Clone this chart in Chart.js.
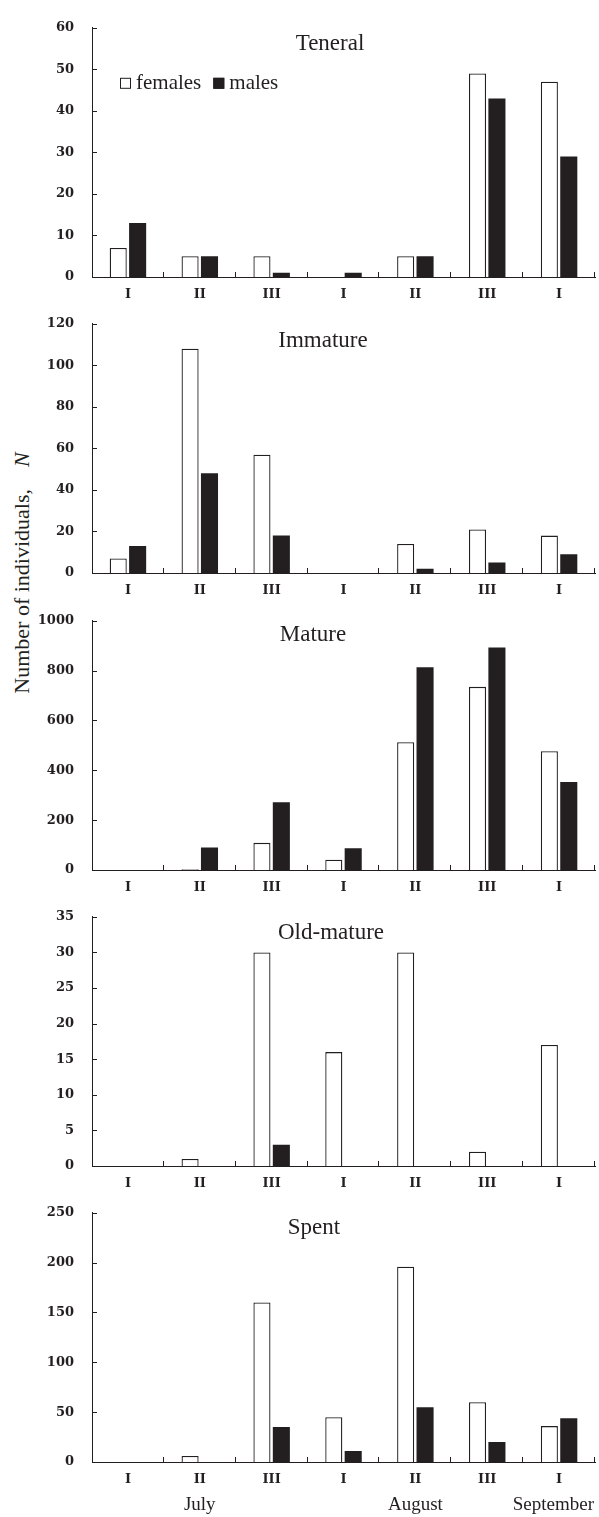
<!DOCTYPE html>
<html lang="en">
<head>
<meta charset="UTF-8">
<title>Number of individuals by age group</title>
<script src="https://cdn.jsdelivr.net/npm/chart.js"></script>
<style>
    html, body { margin: 0; padding: 0; background: #fff; }
    .figure { position: relative; width: 599px; height: 1517px; overflow: hidden; }
    .figure canvas { position: absolute; left: 0; }
    .y-title {
        position: absolute; left: 22px; top: 573px;
        transform: translate(-50%, -50%) rotate(-90deg);
        white-space: nowrap; color: #231f20;
        font: 22px "Liberation Serif", serif;
    }
</style>
</head>
<body>
<div class="figure" id="figure">
    <div class="y-title">Number of individuals,&emsp;<i>N</i></div>
</div>
<script>
// ten-day periods and months under the last panel
const periods = ['I', 'II', 'III', 'I', 'II', 'III', 'I'];
const months = ['July', 'August', 'September'];
const monthIndex = [1, 4, 6];

const tenFemales = [7, 5, 5, 0, 5, 49, 47];
const tenMales = [13, 5, 1, 1, 5, 43, 29];
const immFemales = [7, 108, 57, 0, 14, 21, 18];
const immMales = [13, 48, 18, 0, 2, 5, 9];
const matFemales = [0, 3, 109, 41, 513, 735, 477];
const matMales = [0, 90, 272, 87, 814, 893, 353];
const oldFemales = [0, 1, 30, 16, 30, 2, 17];
const oldMales = [0, 0, 3, 0, 0, 0, 0];
const spFemales = [0, 6, 160, 45, 196, 60, 36];
const spMales = [0, 0, 35, 11, 55, 20, 44];

const INK = '#231f20';
const PLOT_H = 260;

const panels = [
    { title: 'Teneral', females: tenFemales, males: tenMales, max: 60, step: 10, top: 17, titleX: 330, titleDy: 16, legend: true },
    { title: 'Immature', females: immFemales, males: immMales, max: 120, step: 20, top: 313, titleX: 323, titleDy: 17 },
    { title: 'Mature', females: matFemales, males: matMales, max: 1000, step: 200, top: 610, titleX: 313, titleDy: 14 },
    { title: 'Old-mature', females: oldFemales, males: oldMales, max: 35, step: 5, top: 906, titleX: 331, titleDy: 16 },
    { title: 'Spent', females: spFemales, males: spMales, max: 250, step: 50, top: 1202, titleX: 314, titleDy: 15, months: true }
];

// inward tick marks, panel title, legend and month names
const panelDecor = {
    id: 'panelDecor',
    afterDraw(chart, args, opts) {
        const ctx = chart.ctx;
        const area = chart.chartArea;
        const xs = chart.scales.x;
        const ys = chart.scales.y;
        ctx.save();
        ctx.strokeStyle = INK;
        ctx.lineWidth = 1;
        ctx.beginPath();
        ys.ticks.forEach(t => {
            const y = Math.round(ys.getPixelForValue(t.value)) + 0.5;
            ctx.moveTo(area.left, y);
            ctx.lineTo(area.left + 5, y);
        });
        const n = chart.data.labels.length;
        for (let i = 1; i <= n; i++) {
            let x = i === n ? area.right : (xs.getPixelForValue(i - 1) + xs.getPixelForValue(i)) / 2;
            x = Math.round(x) - 0.5;
            ctx.moveTo(x, area.bottom);
            ctx.lineTo(x, area.bottom - 5);
        }
        ctx.stroke();

        ctx.fillStyle = INK;
        ctx.textAlign = 'center';
        ctx.textBaseline = 'middle';
        ctx.font = '23px "Liberation Serif"';
        ctx.fillText(opts.title, opts.titleX, area.top + opts.titleDy);

        if (opts.legend) {
            ctx.font = '21px "Liberation Serif"';
            ctx.textAlign = 'left';
            let x = area.left + 28;
            const y = area.top + 56;
            chart.data.datasets.forEach(ds => {
                ctx.fillStyle = ds.backgroundColor;
                ctx.fillRect(x, y - 6, 11, 11);
                ctx.strokeRect(x + 0.5, y - 5.5, 10, 10);
                ctx.fillStyle = INK;
                ctx.fillText(ds.label, x + 16, y);
                x += 16 + ctx.measureText(ds.label).width + 12;
            });
        }

        if (opts.months) {
            ctx.font = '19px "Liberation Serif"';
            ctx.textAlign = 'center';
            months.forEach((m, k) => {
                const w = ctx.measureText(m).width;
                let x = xs.getPixelForValue(monthIndex[k]);
                x = Math.min(x, chart.width - w / 2 - 5);
                ctx.fillText(m, x, area.bottom + 43);
            });
        }
        ctx.restore();
    }
};

const figure = document.getElementById('figure');
const tickFont = { family: 'DejaVu Serif', size: 13, weight: 'bold' };

panels.forEach(p => {
    const bottomH = p.months ? 55 : 28;
    const canvas = document.createElement('canvas');
    canvas.width = 599;
    canvas.height = 15 + PLOT_H + bottomH;
    canvas.style.top = (p.top - 15) + 'px';
    figure.appendChild(canvas);

    new Chart(canvas.getContext('2d'), {
        type: 'bar',
        data: {
            labels: periods,
            datasets: [{
                label: 'females',
                data: p.females,
                backgroundColor: '#ffffff',
                borderColor: INK,
                borderWidth: 1.3
            }, {
                label: 'males',
                data: p.males,
                backgroundColor: INK,
                borderWidth: 0
            }]
        },
        options: {
            responsive: false,
            animation: false,
            devicePixelRatio: 1,
            layout: { padding: { top: 15, right: 4, left: 0, bottom: 0 } },
            datasets: { bar: { categoryPercentage: 0.54, barPercentage: 0.88 } },
            plugins: {
                legend: { display: false },
                tooltip: { enabled: false },
                panelDecor: p
            },
            scales: {
                x: {
                    grid: { display: false, drawTicks: false },
                    border: { display: true, color: INK, width: 1 },
                    ticks: { font: tickFont, color: INK, padding: 10, autoSkip: false, maxRotation: 0 },
                    afterFit: s => { s.height = bottomH; }
                },
                y: {
                    min: 0,
                    max: p.max,
                    grid: { display: false, drawTicks: false },
                    border: { display: true, color: INK, width: 1 },
                    ticks: { stepSize: p.step, font: tickFont, color: INK, padding: 18, callback: v => String(v) },
                    afterFit: s => { s.width = 92; }
                }
            }
        },
        plugins: [panelDecor]
    });
});
</script>
</body>
</html>
